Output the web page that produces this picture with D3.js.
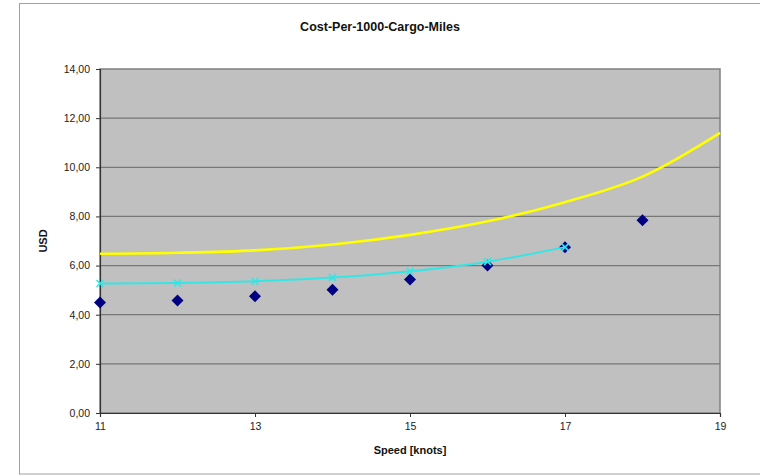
<!DOCTYPE html>
<html><head><meta charset="utf-8">
<script src="https://cdn.jsdelivr.net/npm/d3@7"></script>
<style>body{margin:0;background:#fff;}svg{display:block;font-family:Arial,"Liberation Sans",sans-serif;}</style>
</head><body>
<svg id="c" width="760" height="476"></svg>
<script>
const speeds = [11, 12, 13, 14, 15, 16, 17, 18, 19];
const actualCost = [4.50, 4.58, 4.75, 5.02, 5.43, 6.00, 6.75, 7.84];
const fittedCost = [5.27, 5.29, 5.36, 5.51, 5.77, 6.16, 6.75];
const upperCost = [6.48, 6.52, 6.62, 6.86, 7.25, 7.80, 8.58, 9.62, 11.40];
const xTicks = [11, 13, 15, 17, 19];
const yTicks = [0, 2, 4, 6, 8, 10, 12, 14];

const svg = d3.select("#c");
const W = 760, H = 476;
const m = {left: 100, top: 69, right: 720, bottom: 413};

// outer frame
svg.append("rect").attr("x", 19.5).attr("y", 3.5).attr("width", 760).attr("height", 470.5)
  .attr("fill", "#fff").attr("stroke", "#a0a0a0").attr("stroke-width", 1);

const x = d3.scaleLinear().domain([11, 19]).range([m.left, m.right]);
const y = d3.scaleLinear().domain([0, 14]).range([m.bottom, m.top]);

// plot area
svg.append("rect").attr("x", m.left).attr("y", m.top)
  .attr("width", m.right - m.left).attr("height", m.bottom - m.top)
  .attr("fill", "#c0c0c0").attr("stroke", "#808080").attr("stroke-width", 1.5);

// gridlines
svg.append("g").selectAll("line").data(yTicks.filter(d => d > 0 && d < 14)).join("line")
  .attr("x1", m.left).attr("x2", m.right)
  .attr("y1", d => y(d)).attr("y2", d => y(d))
  .attr("stroke", "#777").attr("stroke-width", 1.3);

// axes
const fmt = d => d3.format(".2f")(d).replace(".", ",");
const yAxis = svg.append("g").attr("transform", `translate(${m.left},0)`)
  .call(d3.axisLeft(y).tickValues(yTicks).tickFormat(fmt).tickSize(4).tickPadding(6));
const xAxis = svg.append("g").attr("transform", `translate(0,${m.bottom})`)
  .call(d3.axisBottom(x).tickValues(xTicks).tickFormat(d3.format("d")).tickSize(4).tickPadding(6));
[yAxis, xAxis].forEach(a => {
  a.select(".domain").attr("stroke", "#333").attr("stroke-width", 1.2);
  a.selectAll(".tick line").attr("stroke", "#333");
  a.selectAll("text").attr("font-size", "10.5px").attr("fill", "#222")
    .style("font-family", "Arial, 'Liberation Sans', sans-serif");
});

const clip = svg.append("clipPath").attr("id", "pc").append("rect")
  .attr("x", m.left).attr("y", m.top - 2).attr("width", m.right - m.left + 2).attr("height", m.bottom - m.top + 4);

// yellow curve
svg.append("path").datum(upperCost.map((v, i) => [speeds[i], v]))
  .attr("clip-path", "url(#pc)")
  .attr("d", d3.line().x(d => x(d[0])).y(d => y(d[1])).curve(d3.curveCatmullRom.alpha(0.5)))
  .attr("fill", "none").attr("stroke", "#ffff00").attr("stroke-width", 2.6);

// diamonds
svg.append("g").selectAll("path").data(actualCost.map((v, i) => [speeds[i], v])).join("path")
  .attr("transform", d => `translate(${x(d[0])},${y(d[1])})`)
  .attr("d", "M0,-6L6,0L0,6L-6,0Z").attr("fill", "#000080");

// cyan line & markers
const fitted = fittedCost.map((v, i) => [speeds[i], v]);
svg.append("path").datum(fitted)
  .attr("d", d3.line().x(d => x(d[0])).y(d => y(d[1])).curve(d3.curveCatmullRom.alpha(0.5)))
  .attr("fill", "none").attr("stroke", "#33e6e6").attr("stroke-width", 2);
svg.append("g").selectAll("path").data(fitted).join("path")
  .attr("transform", d => `translate(${x(d[0])},${y(d[1])})`)
  .attr("d", "M-3.5,-3.5L3.5,3.5M-3.5,3.5L3.5,-3.5")
  .attr("stroke", "#33e6e6").attr("stroke-width", 1.6).attr("fill", "none");

// titles
svg.append("text").attr("x", 380).attr("y", 31).attr("text-anchor", "middle")
  .attr("font-size", "12.5px").attr("font-weight", "bold").attr("fill", "#111")
  .text("Cost-Per-1000-Cargo-Miles");
svg.append("text").attr("x", 410).attr("y", 454).attr("text-anchor", "middle")
  .attr("font-size", "11px").attr("font-weight", "bold").attr("fill", "#111")
  .text("Speed [knots]");
svg.append("text").attr("transform", "translate(47,241) rotate(-90)").attr("text-anchor", "middle")
  .attr("font-size", "11px").attr("font-weight", "bold").attr("fill", "#111")
  .text("USD");
</script>
</body></html>
